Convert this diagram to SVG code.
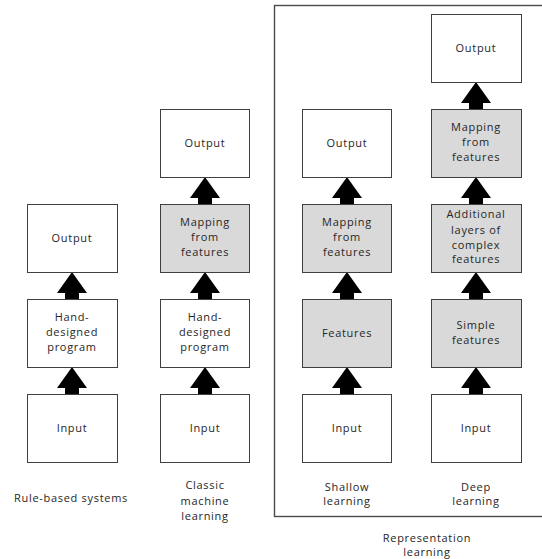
<svg xmlns="http://www.w3.org/2000/svg" width="542" height="559" viewBox="0 0 542 559">
  <style>
    text { font-family: "Open Sans", "Noto Sans", "Liberation Sans", sans-serif; font-size: 11px; fill: #262626; text-anchor: middle; letter-spacing: 0.7px; }
    .box { stroke: #3f3f3f; stroke-width: 1; fill: #ffffff; }
    .shade { fill: #d9d9d9; }
    .frame { fill: none; stroke: #4a4a4a; stroke-width: 1.4; }
    .arrow { fill: #000000; }
  </style>
  <defs>
    <!-- block arrow, tip at origin pointing up -->
    <path id="up" class="arrow" d="M0,0 L15,21 L7,21 L7,27 L-7,27 L-7,21 L-15,21 Z"/>
  </defs>
  <rect width="542" height="559" fill="#ffffff"/>

  <!-- representation learning frame -->
  <rect class="frame" x="274.5" y="5.5" width="280" height="511"/>

  <!-- connectors -->
  <g id="connectors">
    <use href="#up" x="72" y="272"/>
    <use href="#up" x="72" y="367"/>
    <use href="#up" x="205" y="177"/>
    <use href="#up" x="205" y="272"/>
    <use href="#up" x="205" y="367"/>
    <use href="#up" x="347" y="177"/>
    <use href="#up" x="347" y="272"/>
    <use href="#up" x="347" y="367"/>
    <use href="#up" x="476" y="82"/>
    <use href="#up" x="476" y="177"/>
    <use href="#up" x="476" y="272"/>
    <use href="#up" x="476" y="367"/>
  </g>

  <!-- rule-based systems -->
  <g id="rb-output"><rect class="box" x="27.5" y="204.5" width="90" height="68"/><text x="72" y="242">Output</text></g>
  <g id="rb-program"><rect class="box" x="27.5" y="299.5" width="90" height="68"/><text x="72" y="321">Hand-</text><text x="72" y="336">designed</text><text x="72" y="351">program</text></g>
  <g id="rb-input"><rect class="box" x="27.5" y="394.5" width="90" height="68"/><text x="72" y="432">Input</text></g>
  <g id="rb-label"><text x="71" y="502">Rule-based systems</text></g>

  <!-- classic machine learning -->
  <g id="cml-output"><rect class="box" x="160.5" y="109.5" width="89" height="68"/><text x="205" y="147">Output</text></g>
  <g id="cml-mapping"><rect class="box shade" x="160.5" y="204.5" width="89" height="68"/><text x="205" y="226">Mapping</text><text x="205" y="241">from</text><text x="205" y="256">features</text></g>
  <g id="cml-program"><rect class="box" x="160.5" y="299.5" width="89" height="68"/><text x="205" y="321">Hand-</text><text x="205" y="336">designed</text><text x="205" y="351">program</text></g>
  <g id="cml-input"><rect class="box" x="160.5" y="394.5" width="89" height="68"/><text x="205" y="432">Input</text></g>
  <g id="cml-label"><text x="205" y="489">Classic</text><text x="205" y="505">machine</text><text x="205" y="520">learning</text></g>

  <!-- shallow learning -->
  <g id="sl-output"><rect class="box" x="302.5" y="109.5" width="89" height="68"/><text x="347" y="147">Output</text></g>
  <g id="sl-mapping"><rect class="box shade" x="302.5" y="204.5" width="89" height="68"/><text x="347" y="226">Mapping</text><text x="347" y="241">from</text><text x="347" y="256">features</text></g>
  <g id="sl-features"><rect class="box shade" x="302.5" y="299.5" width="89" height="68"/><text x="347" y="337">Features</text></g>
  <g id="sl-input"><rect class="box" x="302.5" y="394.5" width="89" height="68"/><text x="347" y="432">Input</text></g>
  <g id="sl-label"><text x="347" y="491">Shallow</text><text x="347" y="505">learning</text></g>

  <!-- deep learning -->
  <g id="dl-output"><rect class="box" x="431.5" y="14.5" width="90" height="68"/><text x="476" y="52">Output</text></g>
  <g id="dl-mapping"><rect class="box shade" x="431.5" y="109.5" width="90" height="68"/><text x="476" y="131">Mapping</text><text x="476" y="146">from</text><text x="476" y="161">features</text></g>
  <g id="dl-complex"><rect class="box shade" x="431.5" y="204.5" width="90" height="68"/><text x="476" y="218">Additional</text><text x="476" y="234">layers of</text><text x="476" y="249">complex</text><text x="476" y="263">features</text></g>
  <g id="dl-simple"><rect class="box shade" x="431.5" y="299.5" width="90" height="68"/><text x="476" y="329">Simple</text><text x="476" y="344">features</text></g>
  <g id="dl-input"><rect class="box" x="431.5" y="394.5" width="90" height="68"/><text x="476" y="432">Input</text></g>
  <g id="dl-label"><text x="476" y="491">Deep</text><text x="476" y="505">learning</text></g>

  <g id="rep-label"><text x="427" y="542">Representation</text><text x="427" y="556">learning</text></g>
</svg>
